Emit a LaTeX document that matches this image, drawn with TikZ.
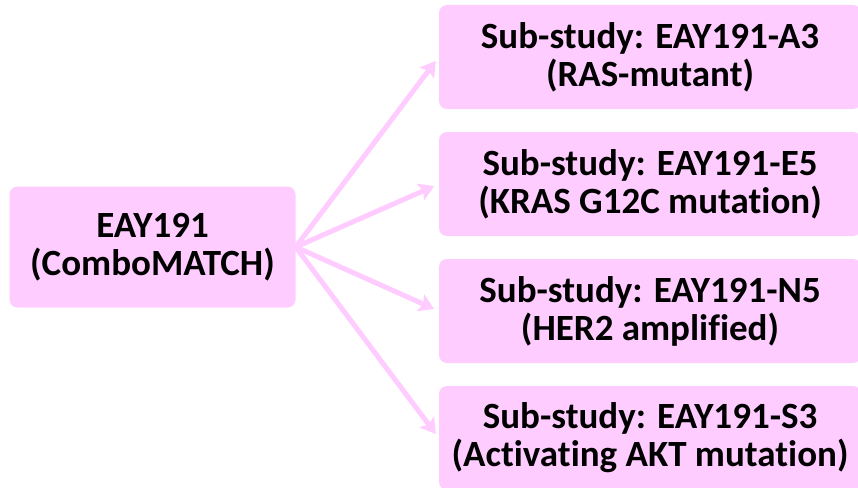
\documentclass[tikz,border=0pt]{standalone}
\usepackage{fontspec}
\setmainfont{Carlito}[Ligatures=NoCommon]
\usetikzlibrary{arrows.meta}
\definecolor{boxpink}{HTML}{FFCCFF}
\tikzset{
  pbox/.style={fill=boxpink, draw=none, rounded corners=8pt, align=center,
    font=\fontsize{37pt}{38pt}\selectfont\bfseries, inner sep=0pt},
  parrow/.style={draw=boxpink, line width=5pt,
    -{Stealth[length=15pt,width=18pt,inset=3pt]}, shorten >=5pt}
}
\begin{document}
\begin{tikzpicture}[x=1pt,y=-1pt]
\useasboundingbox (0,0) rectangle (858,487);
\begin{scope}
\clip (0,0) rectangle (858,487);
\node[pbox, minimum width=286pt, minimum height=121pt] (main) at (152.5,247) {EAY191\\(ComboMATCH)};
\node[pbox, minimum width=422pt, minimum height=104pt] (a3) at (650,57) {Sub-study: EAY191-A3\\(RAS-mutant)};
\node[pbox, minimum width=422pt, minimum height=104pt] (e5) at (650,184) {Sub-study: EAY191-E5\\(KRAS G12C mutation)};
\node[pbox, minimum width=422pt, minimum height=104pt] (n5) at (650,311) {Sub-study: EAY191-N5\\(HER2 amplified)};
\node[pbox, minimum width=422pt, minimum height=104pt] (s3) at (650,438) {Sub-study: EAY191-S3\\(Activating AKT mutation)};
\end{scope}
\coordinate (src) at (main.east);
\foreach \t in {a3,e5,n5,s3}{
  \draw[parrow] (src) -- (\t.west);
}
\end{tikzpicture}
\end{document}
